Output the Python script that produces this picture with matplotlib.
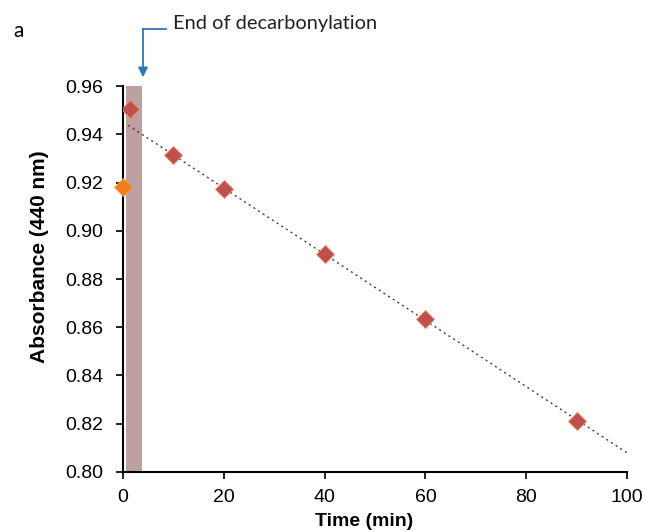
import numpy as np
import matplotlib.pyplot as plt

plt.rcParams['font.family'] = ['Liberation Sans', 'DejaVu Sans']

# data
time_min = [1.3, 10, 20, 40, 60, 90]
absorbance = [0.9505, 0.9312, 0.9175, 0.8905, 0.8635, 0.8212]
start_time = [0]
start_abs = [0.918]
# shaded window = decarbonylation period
shade_start = 0.6
shade_end = 3.8
shade_top = 0.96

fig = plt.figure(figsize=(6.45, 5.32), dpi=100)
ax = fig.add_axes([0.1907, 0.1128, 0.7814, 0.7255])

ax.bar([(shade_start + shade_end) / 2], [shade_top - 0.80], bottom=0.80,
       width=shade_end - shade_start, color='#bfa0a0', zorder=1)

# linear trendline fitted after decarbonylation, extended back to t=1
m, b = np.polyfit(time_min[1:], absorbance[1:], 1)
xs = np.array([1, 100])
ax.plot(xs, m * xs + b, color='#404040', linestyle=(0, (1.5, 2.5)), lw=1.0, zorder=2)

ax.plot(time_min, absorbance, linestyle='none', marker='D', ms=9,
        color='#c0504d', mec='#f08a5d', mew=0.6, zorder=3)
ax.plot(start_time, start_abs, linestyle='none', marker='D', ms=9,
        color='#f07f1a', mec='#f5a050', mew=0.6, zorder=3, clip_on=False)

ax.set_xlim(0, 100)
ax.set_ylim(0.80, 0.96)
ax.set_xticks(range(0, 101, 20))
ax.set_yticks(np.arange(0.80, 0.961, 0.02))
ax.yaxis.set_major_formatter(plt.FormatStrFormatter('%.2f'))
ax.tick_params(labelsize=14, length=5, width=1.2, direction='out', colors='black')
ax.tick_params(axis='y', pad=9)
ax.tick_params(axis='x', pad=7)
for s in ['top', 'right']:
    ax.spines[s].set_visible(False)
for s in ['left', 'bottom']:
    ax.spines[s].set_linewidth(1.5)

ax.set_xlabel('Time (min)', fontsize=14, fontweight='bold')
ax.set_ylabel('Absorbance (440 nm)', fontsize=15, fontweight='bold')
ax.xaxis.set_label_coords(0.478, -0.106)
ax.yaxis.set_label_coords(-0.147, 0.557)

# annotation arrow
fig.text(13 / 645, 1 - 31 / 532, 'a', fontsize=15, va='center', ha='left',
         family=['Lato', 'DejaVu Sans'])
fig.text(173 / 645, 1 - 23 / 532, 'End of decarbonylation', fontsize=14.4,
         va='center', ha='left', color='#222222', family=['Lato', 'DejaVu Sans'])
blue = '#2e75b6'
fig.add_artist(plt.Line2D([166 / 645, 143 / 645], [1 - 29 / 532, 1 - 29 / 532],
                          color=blue, lw=1.3))
fig.add_artist(plt.Line2D([143 / 645, 143 / 645], [1 - 29 / 532, 1 - 70 / 532],
                          color=blue, lw=1.3))
ax.annotate('', xy=(143 / 645, 1 - 80 / 532), xycoords='figure fraction',
            xytext=(143 / 645, 1 - 68 / 532), textcoords='figure fraction',
            arrowprops=dict(arrowstyle='-|>', color=blue, lw=1.3, mutation_scale=14))

fig.savefig('out.png', dpi=100)
